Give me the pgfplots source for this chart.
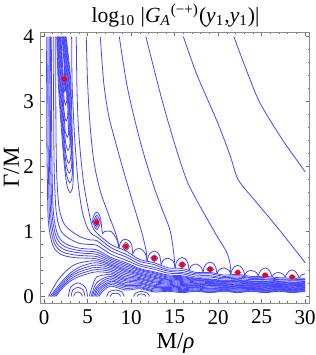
\documentclass[border=0pt]{standalone}
\usepackage{fontspec}
\setmainfont{Liberation Serif}
\usepackage{pgfplots}
\pgfplotsset{compat=1.18}
\definecolor{cblue}{rgb}{0.28,0.28,1}
\pgfplotsset{C/.style={color=cblue, solid, line width=0.4pt, smooth, mark=none}}
\begin{document}
\begin{tikzpicture}
\begin{axis}[
 width=134.5pt, height=135.5pt, scale only axis,
 xmin=-0.35, xmax=30.55, ymin=-0.1, ymax=4.07,
 xtick={0,5,...,30}, ytick={0,1,2,3,4},
 minor x tick num=4, minor y tick num=4,
 tick align=inside,
 major tick length=2.2pt, minor tick length=1.2pt,
 every tick/.style={black!55, line width=0.3pt},
 axis line style={black!45, line width=0.5pt},
 /pgf/number format/assume math mode=true,
 tick label style={font=\fontsize{10.5}{12}\selectfont},
 label style={font=\fontsize{11.5}{13}\selectfont},
 every axis title shift=0pt,
 title style={font=\fontsize{10.8}{13}\selectfont, at={(axis description cs:0.5,1.06)}, anchor=center},
 xlabel style={at={(axis description cs:0.5,-0.148)}, anchor=center},
 ylabel style={at={(axis description cs:-0.11,0.5)}, anchor=center},
 title={log\textsubscript{10} |\textit{G}\textsubscript{\textit{A}}\textsuperscript{(−+)}(\textit{y}\textsubscript{1},\textit{y}\textsubscript{1})|},
 xlabel={M/\textit{ρ}}, ylabel={Γ/M},
]
% ---- band / fan lines
\addplot[C] coordinates {(6.3,0)(6.9,0.1)(7.7,0.16)(9.4,0.10)(11.0,0.12)(12.65,0.07)(14.25,0.08)(15.86,0.06)(17.45,0.08)(19.07,0.06)(20.65,0.08)(22.25,0.06)(23.8,0.08)(25.4,0.06)(26.95,0.08)(28.5,0.06)(30,0.08)};
\addplot[C] coordinates {(6.15,0)(6.7,0.11)(7.7,0.185)(9.4,0.125)(11.0,0.135)(12.65,0.085)(14.25,0.095)(15.86,0.075)(17.45,0.09)(19.07,0.07)(20.65,0.09)(22.25,0.07)(23.8,0.09)(25.4,0.07)(26.95,0.09)(28.5,0.07)(30,0.09)};
\addplot[C] coordinates {(6.0,0)(6.5,0.12)(7.7,0.21)(9.4,0.15)(11.0,0.15)(12.65,0.10)(14.25,0.11)(15.86,0.09)(17.45,0.10)(19.07,0.08)(20.65,0.10)(22.25,0.08)(23.8,0.10)(25.4,0.08)(26.95,0.10)(28.5,0.08)(30,0.10)};
\addplot[C] coordinates {(5.85,0)(6.3,0.125)(7.7,0.235)(9.4,0.17)(11.0,0.17)(12.65,0.12)(14.25,0.125)(15.86,0.105)(17.45,0.115)(19.07,0.095)(20.65,0.11)(22.25,0.095)(23.8,0.11)(25.4,0.09)(26.95,0.105)(28.5,0.09)(30,0.105)};
\addplot[C] coordinates {(5.7,0)(6.1,0.13)(6.8,0.21)(7.7,0.26)(9.4,0.19)(11.0,0.19)(12.65,0.14)(14.25,0.14)(15.86,0.12)(17.45,0.13)(19.07,0.11)(20.65,0.12)(22.25,0.11)(23.8,0.12)(25.4,0.10)(26.95,0.11)(28.5,0.10)(30,0.11)};
\addplot[C] coordinates {(5.55,0)(5.9,0.125)(6.8,0.245)(7.7,0.285)(9.4,0.215)(11.0,0.205)(12.65,0.155)(14.25,0.15)(15.86,0.135)(17.45,0.14)(19.07,0.12)(20.65,0.13)(22.25,0.12)(23.8,0.125)(25.4,0.11)(26.95,0.12)(28.5,0.105)(30,0.12)};
\addplot[C] coordinates {(5.4,0)(5.7,0.12)(6.04,0.21)(6.8,0.28)(7.7,0.31)(9.4,0.24)(11.0,0.22)(12.65,0.17)(14.25,0.16)(15.86,0.15)(17.45,0.15)(19.07,0.13)(20.65,0.14)(22.25,0.13)(23.8,0.13)(25.4,0.12)(26.95,0.13)(28.5,0.11)(30,0.13)};
\addplot[C] coordinates {(5.2,0)(5.45,0.12)(5.8,0.25)(6.04,0.3)(6.8,0.33)(7.7,0.335)(9.4,0.26)(11.0,0.24)(12.65,0.19)(14.25,0.175)(15.86,0.16)(17.45,0.16)(19.07,0.145)(20.65,0.15)(22.25,0.14)(23.8,0.14)(25.4,0.13)(26.95,0.14)(28.5,0.12)(30,0.135)};
\addplot[C] coordinates {(1.35,0)(1.8,0.08)(2.5,0.18)(3.3,0.26)(4.1,0.31)(5.0,0.35)(6.04,0.38)(7.7,0.36)(9.4,0.28)(11.0,0.26)(12.65,0.21)(14.25,0.19)(15.86,0.17)(17.45,0.17)(19.07,0.16)(20.65,0.16)(22.25,0.15)(23.8,0.15)(25.4,0.14)(26.95,0.15)(28.5,0.13)(30,0.14)};
\addplot[C] coordinates {(1.17,0)(1.65,0.08)(2.35,0.185)(3.15,0.28)(4.0,0.34)(5.0,0.385)(6.04,0.415)(7.7,0.385)(9.4,0.305)(11.0,0.275)(12.65,0.225)(14.25,0.205)(15.86,0.185)(17.45,0.18)(19.07,0.17)(20.65,0.17)(22.25,0.16)(23.8,0.16)(25.4,0.15)(26.95,0.155)(28.5,0.14)(30,0.15)};
\addplot[C] coordinates {(1.0,0)(1.5,0.08)(2.2,0.19)(3.0,0.3)(3.9,0.37)(5.0,0.42)(6.04,0.45)(7.7,0.41)(9.4,0.33)(11.0,0.29)(12.65,0.24)(14.25,0.22)(15.86,0.20)(17.45,0.19)(19.07,0.18)(20.65,0.18)(22.25,0.17)(23.8,0.17)(25.4,0.16)(26.95,0.16)(28.5,0.15)(30,0.16)};
\addplot[C] coordinates {(0.85,0)(1.35,0.085)(2.0,0.19)(2.8,0.305)(3.65,0.385)(4.6,0.44)(6.04,0.485)(7.7,0.435)(9.4,0.355)(11.0,0.31)(12.65,0.26)(14.25,0.235)(15.86,0.215)(17.45,0.20)(19.07,0.19)(20.65,0.19)(22.25,0.18)(23.8,0.18)(25.4,0.17)(26.95,0.17)(28.5,0.16)(30,0.165)};
\addplot[C] coordinates {(0.69,0)(1.2,0.09)(1.8,0.19)(2.6,0.31)(3.4,0.4)(4.2,0.46)(5.1,0.5)(6.04,0.52)(7.7,0.46)(9.4,0.38)(11.0,0.33)(12.65,0.28)(14.25,0.25)(15.86,0.23)(17.45,0.21)(19.07,0.20)(20.65,0.20)(22.25,0.19)(23.8,0.19)(25.4,0.18)(26.95,0.18)(28.5,0.17)(30,0.17)};
\addplot[C] coordinates {(0.5,0)(1.0,0.12)(1.7,0.27)(2.6,0.4)(3.5,0.49)(4.5,0.53)(6.04,0.55)(7.7,0.48)(9.4,0.40)(11.0,0.345)(12.65,0.295)(14.25,0.26)(15.86,0.245)(17.45,0.225)(19.07,0.215)(20.65,0.21)(22.25,0.205)(23.8,0.195)(25.4,0.19)(26.95,0.185)(28.5,0.175)(30,0.18)};
\addplot[C] coordinates {(0.3,4)(0.3,3.2)(0.32,2.4)(0.38,1.8)(0.5,1.15)(1.0,0.79)(1.9,0.65)(3.4,0.6)(4.9,0.59)(6.04,0.58)(7.7,0.50)(9.4,0.42)(11.0,0.36)(12.65,0.31)(14.25,0.27)(15.86,0.26)(17.45,0.24)(19.07,0.23)(20.65,0.22)(22.25,0.22)(23.8,0.20)(25.4,0.20)(26.95,0.19)(28.5,0.18)(30,0.19)};
\addplot[C] coordinates {(0.45,4)(0.44,3.2)(0.46,2.4)(0.52,1.8)(0.65,1.18)(1.15,0.83)(2.05,0.69)(3.5,0.64)(4.95,0.625)(6.04,0.615)(7.7,0.525)(9.4,0.445)(11.0,0.38)(12.65,0.33)(14.25,0.285)(15.86,0.275)(17.45,0.25)(19.07,0.24)(20.65,0.225)(22.25,0.23)(23.8,0.21)(25.4,0.21)(26.95,0.20)(28.5,0.19)(30,0.195)};
\addplot[C] coordinates {(0.6,4)(0.58,3.2)(0.6,2.4)(0.66,1.8)(0.8,1.2)(1.3,0.86)(2.2,0.73)(3.6,0.68)(5.0,0.66)(6.04,0.65)(7.7,0.55)(9.4,0.47)(11.0,0.40)(12.65,0.35)(14.25,0.30)(15.86,0.29)(17.45,0.26)(19.07,0.25)(20.65,0.23)(22.25,0.24)(23.8,0.22)(25.4,0.22)(26.95,0.21)(28.5,0.20)(30,0.20)};
\addplot[C] coordinates {(0.74,4)(0.72,3.2)(0.74,2.4)(0.8,1.8)(0.95,1.22)(1.45,0.9)(2.35,0.77)(3.7,0.715)(5.05,0.695)(6.04,0.685)(7.7,0.575)(9.4,0.495)(11.0,0.415)(12.65,0.365)(14.25,0.315)(15.86,0.305)(17.45,0.27)(19.07,0.26)(20.65,0.24)(22.25,0.25)(23.8,0.23)(25.4,0.23)(26.95,0.22)(28.5,0.21)(30,0.21)};
\addplot[C] coordinates {(0.88,4)(0.86,3.2)(0.88,2.4)(0.94,1.8)(1.1,1.25)(1.6,0.94)(2.5,0.81)(3.8,0.75)(5.1,0.73)(6.04,0.72)(7.7,0.60)(9.4,0.52)(11.0,0.43)(12.65,0.38)(14.25,0.33)(15.86,0.32)(17.45,0.28)(19.07,0.27)(20.65,0.25)(22.25,0.26)(23.8,0.24)(25.4,0.24)(26.95,0.23)(28.5,0.22)(30,0.22)};
\addplot[C] coordinates {(1.12,4)(1.1,3.2)(1.12,2.4)(1.2,1.8)(1.4,1.3)(1.9,1.02)(2.8,0.9)(4.0,0.82)(5.2,0.8)(6.04,0.79)(7.7,0.65)(9.4,0.56)(11.0,0.47)(12.65,0.42)(14.25,0.36)(15.86,0.35)(17.45,0.30)(19.07,0.30)(20.65,0.27)(22.25,0.28)(23.8,0.26)(25.4,0.26)(26.95,0.24)(28.5,0.24)(30,0.23)};
\addplot[C] coordinates {(1.35,4)(1.35,3.2)(1.38,2.4)(1.48,1.8)(1.75,1.35)(2.3,1.12)(3.2,1.0)(4.3,0.91)(5.3,0.87)(6.04,0.86)(7.7,0.70)(9.4,0.61)(11.0,0.50)(12.65,0.45)(14.25,0.39)(15.86,0.37)(17.45,0.33)(19.07,0.32)(20.65,0.29)(22.25,0.30)(23.8,0.28)(25.4,0.27)(26.95,0.26)(28.5,0.25)(30,0.25)};
\addplot[C] coordinates {(3.17,4)(3.22,3.3)(3.45,2.6)(3.7,2.1)(3.95,1.7)(4.4,1.3)(5.0,1.05)(5.6,0.95)(6.04,0.92)(7.7,0.75)(9.4,0.65)(11.0,0.54)(12.65,0.49)(14.25,0.41)(15.86,0.40)(17.45,0.35)(19.07,0.35)(20.65,0.31)(22.25,0.32)(23.8,0.29)(25.4,0.29)(26.95,0.27)(28.5,0.265)(30,0.26)};
\addplot[C] coordinates {(3.7,4)(3.78,3.2)(3.95,2.6)(4.25,2.1)(4.6,1.7)(5.0,1.4)(5.5,1.1)(6.04,0.98)(7.7,0.80)(9.4,0.70)(11.0,0.57)(12.65,0.52)(14.25,0.44)(15.86,0.43)(17.45,0.37)(19.07,0.37)(20.65,0.33)(22.25,0.34)(23.8,0.31)(25.4,0.31)(26.95,0.29)(28.5,0.28)(30,0.28)};
% ---- hanging U contours (left cluster)
\addplot[C] coordinates {(1.47,4)(1.61,3.35)(1.98,2.6)(2.35,2.0)(2.65,1.7)(3.0,1.6)(3.3,1.7)(3.35,2.0)(3.22,2.6)(3.05,3.35)(2.53,4)};
\addplot[C] coordinates {(1.53,4)(1.69,3.35)(2.06,2.6)(2.43,2.0)(2.7,1.82)(2.95,1.75)(3.2,1.82)(3.27,2.0)(3.14,2.6)(2.97,3.35)(2.47,4)};
\addplot[C] coordinates {(1.59,4)(1.77,3.35)(2.14,2.6)(2.52,2.05)(2.9,1.9)(3.18,2.05)(3.06,2.6)(2.89,3.35)(2.41,4)};
\addplot[C] coordinates {(1.65,4)(1.85,3.35)(2.22,2.6)(2.5,2.2)(2.83,2.05)(3.1,2.2)(2.98,2.6)(2.81,3.35)(2.35,4)};
\addplot[C] coordinates {(1.71,4)(1.93,3.35)(2.31,2.6)(2.5,2.35)(2.75,2.25)(2.98,2.35)(2.89,2.6)(2.73,3.35)(2.29,4)};
\addplot[C] coordinates {(1.77,4)(2.01,3.35)(2.4,2.6)(2.48,2.52)(2.67,2.45)(2.84,2.52)(2.8,2.6)(2.65,3.35)(2.23,4)};
\addplot[C] coordinates {(1.83,4)(2.09,3.35)(2.3,2.85)(2.56,2.7)(2.75,2.85)(2.57,3.35)(2.17,4)};
\addplot[C] coordinates {(1.88,4)(2.16,3.35)(2.3,3.05)(2.47,2.95)(2.62,3.05)(2.5,3.35)(2.12,4)};
\addplot[C] coordinates {(1.93,4)(2.23,3.35)(2.32,3.2)(2.4,3.15)(2.47,3.2)(2.43,3.35)(2.07,4)};
% ---- long curves from the top
\addplot[C] coordinates {(4.85,4)(5.0,3.3)(5.25,2.7)(5.7,2.1)(6.4,1.65)(7.3,1.3)(8.1,1.02)(8.5,0.85)(8.6,0.75)};
\addplot[C] coordinates {(6.46,4)(6.85,3.3)(7.4,2.8)(8.14,2.41)(9.2,1.9)(10.3,1.4)(11.2,1.0)(11.7,0.72)(11.85,0.55)};
\addplot[C] coordinates {(8.64,4)(9.6,3.2)(11.0,2.41)(12.35,1.8)(13.4,1.4)(14.45,1.03)(14.85,0.72)(15.06,0.44)};
\addplot[C] coordinates {(11.7,4)(12.16,3.75)(13.6,3.0)(15.0,2.35)(16.36,1.8)(17.5,1.49)(18.8,1.18)(20.0,0.9)(20.95,0.69)(21.35,0.52)(21.45,0.34)};
\addplot[C] coordinates {(16.0,4)(17.6,3.4)(19.8,2.72)(21.3,2.2)(22.3,1.8)(24.2,1.48)(26.7,1.08)(30,0.52)};
\addplot[C] coordinates {(21.8,4)(23.2,3.5)(24.8,2.98)(27.4,2.41)(30,1.92)};
% ---- arches over the resonances
\addplot[C] coordinates {(5.55,1.13)(5.65,1.22)(5.85,1.28)(6.04,1.3)(6.25,1.28)(6.5,1.2)(6.7,0.96)};
\addplot[C] coordinates {(6.7,0.96)(6.95,1.0)(7.7,1.0)(8.35,0.88)(8.6,0.75)};
\addplot[C] coordinates {(8.6,0.75)(8.75,0.82)(9.05,0.87)(9.4,0.88)(9.75,0.86)(10.05,0.80)(10.2,0.65)};
\addplot[C] coordinates {(10.2,0.65)(10.4,0.71)(11.0,0.74)(11.6,0.67)(11.85,0.55)};
\addplot[C] coordinates {(11.85,0.55)(12.0,0.63)(12.3,0.68)(12.65,0.70)(13.0,0.68)(13.3,0.62)(13.45,0.49)};
\addplot[C] coordinates {(13.45,0.49)(13.7,0.56)(14.25,0.59)(14.85,0.54)(15.06,0.44)};
\addplot[C] coordinates {(15.06,0.44)(15.21,0.53)(15.51,0.58)(15.86,0.60)(16.21,0.58)(16.51,0.52)(16.66,0.40)};
\addplot[C] coordinates {(16.66,0.40)(16.9,0.47)(17.45,0.50)(18.05,0.45)(18.27,0.37)};
\addplot[C] coordinates {(18.27,0.37)(18.42,0.46)(18.72,0.51)(19.07,0.53)(19.42,0.51)(19.72,0.45)(19.87,0.35)};
\addplot[C] coordinates {(19.87,0.35)(20.1,0.41)(20.65,0.44)(21.25,0.40)(21.45,0.34)};
\addplot[C] coordinates {(21.45,0.34)(21.6,0.41)(21.9,0.46)(22.25,0.48)(22.6,0.46)(22.9,0.40)(23.05,0.33)};
\addplot[C] coordinates {(23.05,0.33)(23.3,0.38)(23.8,0.40)(24.4,0.37)(24.6,0.315)};
\addplot[C] coordinates {(24.6,0.315)(24.75,0.37)(25.05,0.42)(25.4,0.44)(25.75,0.42)(26.05,0.36)(26.2,0.305)};
\addplot[C] coordinates {(26.2,0.305)(26.45,0.35)(26.95,0.37)(27.5,0.34)(27.7,0.29)};
\addplot[C] coordinates {(27.7,0.29)(27.85,0.34)(28.15,0.39)(28.5,0.41)(28.85,0.39)(29.15,0.33)(29.3,0.285)};
\addplot[C] coordinates {(29.3,0.285)(29.55,0.33)(30,0.35)};
% ---- loops round the resonances
\addplot[C] coordinates {(5.89,1.14)(6.04,1.18)(6.19,1.14)(6.04,1.10)(5.89,1.14)};
\addplot[C] coordinates {(5.76,1.14)(6.04,1.21)(6.32,1.14)(6.04,1.07)(5.76,1.14)};
\addplot[C] coordinates {(5.62,1.14)(6.04,1.25)(6.46,1.14)(6.04,1.03)(5.62,1.14)};
\addplot[C] coordinates {(9.2,0.77)(9.4,0.80)(9.6,0.77)(9.4,0.74)(9.2,0.77)};
\addplot[C] coordinates {(9.0,0.77)(9.4,0.83)(9.8,0.77)(9.4,0.71)(9.0,0.77)};
\addplot[C] coordinates {(12.45,0.59)(12.65,0.615)(12.85,0.59)(12.65,0.565)(12.45,0.59)};
\addplot[C] coordinates {(12.25,0.59)(12.65,0.64)(13.05,0.59)(12.65,0.54)(12.25,0.59)};
\addplot[C] coordinates {(15.66,0.49)(15.86,0.51)(16.06,0.49)(15.86,0.47)(15.66,0.49)};
\addplot[C] coordinates {(15.46,0.49)(15.86,0.535)(16.26,0.49)(15.86,0.445)(15.46,0.49)};
\addplot[C] coordinates {(18.87,0.42)(19.07,0.44)(19.27,0.42)(19.07,0.40)(18.87,0.42)};
\addplot[C] coordinates {(18.67,0.42)(19.07,0.46)(19.47,0.42)(19.07,0.38)(18.67,0.42)};
\addplot[C] coordinates {(22.05,0.37)(22.25,0.382)(22.45,0.37)(22.25,0.358)(22.05,0.37)};
\addplot[C] coordinates {(21.9,0.37)(22.25,0.392)(22.6,0.37)(22.25,0.348)(21.9,0.37)};
\addplot[C] coordinates {(25.2,0.33)(25.4,0.34)(25.6,0.33)(25.4,0.32)(25.2,0.33)};
\addplot[C] coordinates {(25.05,0.33)(25.4,0.35)(25.75,0.33)(25.4,0.31)(25.05,0.33)};
\addplot[C] coordinates {(28.3,0.30)(28.5,0.31)(28.7,0.30)(28.5,0.29)(28.3,0.30)};
\addplot[C] coordinates {(28.15,0.30)(28.5,0.32)(28.85,0.30)(28.5,0.283)(28.15,0.30)};
\addplot[C] coordinates {(2.28,3.35)(2.33,3.45)(2.38,3.35)(2.33,3.25)(2.28,3.35)};
% ---- hills at the bottom edge
\addplot[C] coordinates {(3.4,0)(3.55,0.05)(3.9,0.07)(4.25,0.05)(4.4,0)};
\addplot[C] coordinates {(3.1,0)(3.3,0.1)(3.9,0.14)(4.5,0.1)(4.7,0)};
\addplot[C] coordinates {(2.8,0)(3.05,0.14)(3.9,0.21)(4.75,0.14)(5.0,0)};
\addplot[C] coordinates {(7.6,0)(7.8,0.04)(8.2,0.05)(8.6,0.04)(8.8,0)};
\addplot[C] coordinates {(7.2,0)(7.45,0.07)(8.2,0.1)(8.95,0.07)(9.2,0)};
\addplot[C] coordinates {(10.7,0)(10.85,0.03)(11.2,0.04)(11.55,0.03)(11.7,0)};
\addplot[C] coordinates {(10.3,0)(10.5,0.05)(11.2,0.08)(11.9,0.05)(12.1,0)};
% ---- resonance positions
\addplot[only marks, mark=*, red, mark size=1.1pt, mark options={draw=red, fill=red}] coordinates {(2.33,3.35)(6.04,1.14)(9.4,0.77)(12.65,0.59)(15.86,0.49)(19.07,0.42)(22.25,0.37)(25.4,0.33)(28.5,0.30)};
\end{axis}
\pgfresetboundingbox
\path ([shift={(-20.5pt,-26pt)}]current axis.south west) rectangle ([shift={(3pt,16pt)}]current axis.north east);
\end{tikzpicture}
\end{document}
